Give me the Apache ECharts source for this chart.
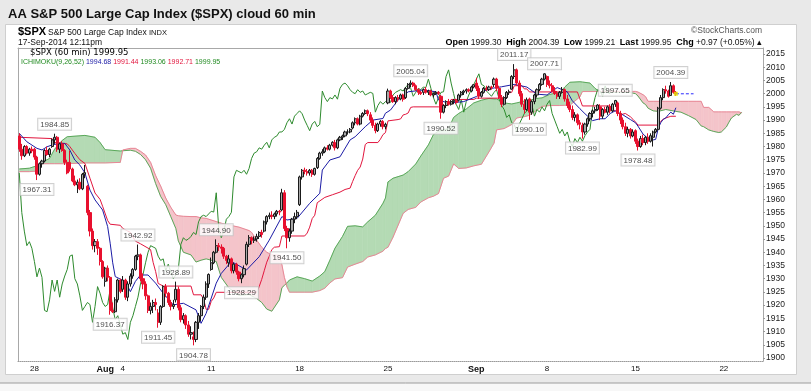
<!DOCTYPE html>
<html><head><meta charset="utf-8">
<script src="https://cdn.jsdelivr.net/npm/echarts@6/dist/echarts.min.js"></script>
<style>html,body{margin:0;padding:0;background:#f7f7f7;}#c{width:811px;height:391px;}</style>
</head><body><div id="c"></div>
<script>
// ---------- categories (trading sessions of 60-min bars) ----------
const sessions = [
 ['Jul 25',6],['Jul 28',7],['Jul 29',7],['Jul 30',7],['Jul 31',7],['Aug 1',7],
 ['Aug 4',7],['Aug 5',7],['Aug 6',7],['Aug 7',7],['Aug 8',7],
 ['Aug 11',7],['Aug 12',7],['Aug 13',7],['Aug 14',7],['Aug 15',7],
 ['Aug 18',7],['Aug 19',7],['Aug 20',7],['Aug 21',7],['Aug 22',7],
 ['Aug 25',7],['Aug 26',7],['Aug 27',7],['Aug 28',7],['Aug 29',7],
 ['Sep 2',7],['Sep 3',7],['Sep 4',7],['Sep 5',7],
 ['Sep 8',7],['Sep 9',7],['Sep 10',7],['Sep 11',7],['Sep 12',7],
 ['Sep 15',7],['Sep 16',7],['Sep 17',3]];
const projected = [['Sep 17',4],['Sep 18',7],['Sep 19',7],['Sep 22',7],['Sep 23',7],['Sep 24',2]];
const xTickLabels = [['Jul 28','28'],['Aug 1','Aug'],['Aug 4','4'],['Aug 11','11'],['Aug 18','18'],
 ['Aug 25','25'],['Sep 2','Sep'],['Sep 8','8'],['Sep 15','15'],['Sep 22','22']];
const monthNames = ['Aug','Sep'];
const yTicks = [1900,1905,1910,1915,1920,1925,1930,1935,1940,1945,1950,1955,1960,1965,1970,1975,1980,1985,1990,1995,2000,2005,2010,2015];

// ---------- OHLC (one row per session) ----------
const O = [
1984,1979,1976.5,1980,1977.5,1979,
1979,1976,1969.5,1973.5,1974.5,1978.5,1977,
1980,1982.5,1983.5,1979,1981,1978.5,1974,
1974,1971.5,1967,1965.5,1966.5,1964,1969.5,
1965,1955,1948,1942.5,1944,1941.5,1936.5,
1929,1934,1930.5,1918,1917.5,1922,1929.5,
1926,1929.5,1923,1928,1931,1933.5,1938.5,
1939,1930,1928,1923.5,1918,1919.5,1921,
1917,1913.5,1919.5,1927,1924.5,1921,1919.5,
1922,1926,1919,1914.5,1916,1912.5,1909,
1908,1907,1913.5,1916,1919.5,1923,1928,
1933.5,1936,1940,1942.5,1942,1941.5,1938.5,
1936,1937.5,1933,1935.5,1932.5,1930,1931.5,
1935.5,1943,1945.5,1944.5,1945,1946,1947.5,
1948,1951.5,1953.5,1954,1953.5,1954.5,1955.5,
1956,1962.5,1949,1945.5,1948,1952.5,1953.5,
1958,1968.5,1971,1970.5,1970,1971,1969.5,
1972,1975.5,1977.5,1978,1979.5,1979,1980.5,
1981.5,1979.5,1982.5,1983.5,1984,1985.5,1985.5,
1987,1989,1990.5,1988.5,1991.5,1992.5,1993.5,
1992,1990,1988,1986,1988.5,1989.5,1987.5,
1996.5,2001,1998.5,1997,1998.5,1998,1999.5,
1998.5,2002,2003.5,2004,2003,2001.5,2000.5,
2000.5,2001.5,2000.5,2001,1999.5,2000,2000.5,
1999,1993,1995.5,1997,1996,1997,1997.5,
1997.5,1999.5,2000.5,2001,2001.5,2001,2002.5,
2004,2002,1999,2000.5,2002,2001.5,2002.5,
2003.5,2005.5,2002,1998.5,1996,1998.5,2000.5,
2001.7,2006.5,2009,2004,2000,1996,1994,
1998,1993,1997,1999.5,2001.5,2003.5,2005.5,
2006.5,2003.5,2003,2001,2000,1999,2000.5,
2001.5,1998,1995.5,1994,1991,1992,1989,
1988,1985.5,1988.5,1990.5,1992.5,1993.5,1994,
1995,1991.5,1994,1993,1995,1993.5,1996,
1996.5,1992.5,1990,1987.5,1985,1986.5,1984,
1986,1982,1980,1983,1981.5,1983.5,1982,
1983.5,1985.5,1986.5,1994.5,1998.5,2001.5,2001,
1999.3,2003,2000.5];
const H = [
1985,1981,1980.5,1980.5,1979.5,1980,
1979.5,1976.5,1974,1975,1979,1980,1979.5,
1983,1984.85,1984,1981.5,1982,1979,1975,
1978.5,1972,1969,1967.5,1968,1970,1973,
1965.5,1956,1949,1945,1945,1942,1937,
1934.5,1935,1931,1921,1923,1930,1930,
1931,1930,1929,1932,1934,1939,1942.92,
1939.5,1932,1929,1924,1921,1922,1922.5,
1918.5,1920,1927.5,1928,1925,1922,1922,
1928.89,1927,1920,1917,1916.5,1914,1912,
1910,1914,1917,1920,1924,1929,1932,
1938,1940.5,1944.9,1943.5,1943,1942,1939,
1939,1938,1936,1936,1933,1932,1935,
1944,1946.5,1946,1946,1947,1948,1948.5,
1952,1954,1955,1955.5,1955,1956,1956,
1964,1963.5,1950,1949,1953,1955,1956,
1969,1971.5,1972,1971.5,1971.5,1971.5,1972,
1976,1978,1979,1980,1980.5,1981,1982,
1982.5,1983,1984,1984.5,1986,1986.5,1987,
1989.5,1991,1991,1992,1993,1994,1994,
1993,1991,1989,1989,1990,1990,1989,
2001.9,2001.5,1999.5,1999,1999.5,2000,2000,
2002.5,2004,2005.04,2004.5,2003.5,2002,2001,
2002,2002.5,2001.5,2001.5,2000.5,2001,2001,
1999.5,1996,1997.5,1998,1997.5,1998,1998,
2000,2001,2001.5,2002,2002,2003,2003.5,
2006,2003,2001,2002.5,2003,2003,2003,
2006.1,2006,2003,1999.5,1999,2001,2001.5,
2007,2011.17,2009.5,2005,2001,1998,1998.5,
1998.5,1997.5,2000,2002,2004,2006,2007.71,
2006.9,2005,2004,2002.5,2001,2001,2002.5,
2002,1999.5,1997,1995.5,1993,1992.5,1990,
1989,1989,1991,1993,1994,1995,1996,
1996,1994.5,1995,1995.5,1996,1996.5,1997.65,
1997,1993.5,1991,1989,1987.5,1987,1986.5,
1986.5,1983,1984,1984.5,1984,1985,1985,
1986,1987,1995,1999.5,2002,2003,2001.5,
2004.39,2003.5,2001];
const L = [
1978,1975,1976,1977,1976.5,1977.5,
1975,1967.31,1969,1972,1974,1976.5,1976,
1979.5,1981,1978,1977.5,1978,1973,1969.5,
1970.5,1966.5,1965,1962.4,1963.5,1963.5,1968,
1954,1946,1941,1940,1939,1935,1930,
1927,1929,1916.37,1917,1917,1921,1924.5,
1925,1922,1921.5,1927,1930,1933,1937,
1929,1926,1922,1917,1916.5,1917,1918,
1911.45,1912.5,1919,1923,1920,1918,1918.5,
1921,1918,1913.5,1913,1911,1908,1907,
1904.78,1906,1911,1914,1918.5,1922,1926.5,
1933,1935.5,1939.5,1940.5,1939.5,1937.5,1935.5,
1934.5,1932,1932,1931.5,1929,1928.29,1930.5,
1935,1942,1943,1943.5,1944,1945,1945.5,
1947.5,1950.5,1952.5,1952.5,1952.5,1953.5,1954,
1955.5,1948,1941.5,1944,1947,1951,1952.5,
1957.5,1967.5,1969.5,1969,1969,1968.5,1969,
1971.5,1975,1976.5,1977.5,1978.5,1978.5,1980,
1978.5,1979,1982,1982.5,1983.5,1984.5,1985,
1986.5,1988,1988,1988,1991,1992,1991.5,
1989,1987,1985,1985.5,1987.5,1986.5,1986.5,
1996,1998,1996.5,1996,1997,1997.5,1997,
1998,2001.5,2002.5,2002.5,2001,1999.5,1999.5,
1999.5,2000,1999.5,1999,1998.5,1999.5,1999.5,
1990.52,1992.5,1994.5,1995.5,1995.5,1996,1996,
1997,1998.5,1999.5,2000,2000.5,2000.5,2002,
2001,1998,1998.5,2000,2001,2001,2001.5,
2002.5,2001,1998,1994.9,1995.5,1998,1999.5,
2001.5,2005.5,2003,1999,1995,1992.4,1993.5,
1990.1,1992,1996,1998.5,2001,2003,2005,
2002.5,2002,2000.5,1999.5,1998,1998,2000,
1997,1994.5,1993,1990,1989.5,1988,1986.5,
1982.99,1984.5,1987.5,1989.5,1991,1992.5,1993.5,
1990,1990.5,1992.5,1992,1992.5,1993,1995,
1991.5,1988.5,1986.5,1984,1983.5,1983,1983.5,
1981,1978.48,1979.5,1980.5,1980.5,1981,1981.5,
1980,1985,1986,1994,1997.5,2000,1998.5,
1999.3,2000,1999.21];
const C = [
1979,1976.5,1980,1977.5,1979,1978.3,
1976,1969.5,1973.5,1974.5,1978.5,1977,1979,
1982.5,1983.5,1979,1981,1978.5,1974,1970,
1971.5,1967,1965.5,1966.5,1964,1969.5,1970.1,
1955,1948,1942.5,1944,1941.5,1936.5,1930.7,
1934,1930.5,1918,1917.5,1922,1929.5,1925.2,
1929.5,1923,1928,1931,1933.5,1938.5,1939,
1930,1928,1923.5,1918,1919.5,1921,1920.2,
1913.5,1919.5,1927,1924.5,1921,1919.5,1920.2,
1926,1919,1914.5,1916,1912.5,1909,1909.6,
1907,1913.5,1916,1919.5,1923,1928,1931.6,
1936,1940,1942.5,1942,1941.5,1938.5,1936.9,
1937.5,1933,1935.5,1932.5,1930,1931.5,1933.8,
1943,1945.5,1944.5,1945,1946,1947.5,1946.7,
1951.5,1953.5,1954,1953.5,1954.5,1955.5,1955.2,
1962.5,1949,1945.5,1948,1952.5,1953.5,1955.1,
1968.5,1971,1970.5,1970,1971,1969.5,1971.7,
1975.5,1977.5,1978,1979.5,1979,1980.5,1981.6,
1979.5,1982.5,1983.5,1984,1985.5,1985.5,1986.5,
1989,1990.5,1988.5,1991.5,1992.5,1993.5,1992.4,
1990,1988,1986,1988.5,1989.5,1987.5,1988.4,
2001,1998.5,1997,1998.5,1998,1999.5,1997.9,
2002,2003.5,2004,2003,2001.5,2000.5,2000,
2001.5,2000.5,2001,1999.5,2000,2000.5,2000.1,
1993,1995.5,1997,1996,1997,1997.5,1996.7,
1999.5,2000.5,2001,2001.5,2001,2002.5,2003.4,
2002,1999,2000.5,2002,2001.5,2002.5,2002.3,
2005.5,2002,1998.5,1996,1998.5,2000.5,2000.7,
2006.5,2009,2004,2000,1996,1994,1997.7,
1993,1997,1999.5,2001.5,2003.5,2005.5,2007.5,
2003.5,2003,2001,2000,1999,2000.5,2001.5,
1998,1995.5,1994,1991,1992,1989,1988.4,
1985.5,1988.5,1990.5,1992.5,1993.5,1994,1995.7,
1991.5,1994,1993,1995,1993.5,1996,1997.4,
1992.5,1990,1987.5,1985,1986.5,1984,1985.5,
1982,1980,1983,1981.5,1983.5,1982,1984.1,
1985.5,1986.5,1994.5,1998.5,2001.5,2001,1999,
2003,2000.5,1999.95];

// ---------- Ichimoku lines: [bar index, value] ----------
const tenkan = [[0,1985],[3,1981.8],[7,1979.3],[9,1978.7],[11,1979.9],[13,1980.6],[16,1981.2],[18,1981.2],[20,1978.7],[22,1974.9],[24,1973],[26,1970],[28,1963.5],[30,1959.8],[33,1956],[35,1949.7],[36,1943.4],[37,1936],[38,1930.8],[42,1928.9],[44,1925.1],[46,1929],[48,1931.4],[51,1931.4],[54,1928.3],[57,1924.5],[61,1920.1],[65,1920.7],[70,1918.2],[72,1913.1],[74,1916.9],[78,1928.3],[80,1932],[84,1936.5],[90,1933.3],[95,1938.3],[99,1944.6],[104,1953.5],[106,1952.2],[110,1952.8],[115,1958.5],[119,1962.3],[120,1971.1],[123,1974.9],[127,1976.1],[131,1982.5],[133,1983.7],[137,1987.5],[140,1990],[144,1990.6],[145,1992.6],[147,1993.8],[150,1997.6],[154,2000.7],[160,2001.4],[165,2000.7],[166,1997.6],[170,1996.4],[176,1997],[181,1998.9],[183,2000.7],[187,2002],[191,2002.6],[196,2003.5],[201,2002.5],[205,1999.8],[209,1999.5],[213,2002.3],[217,2000.7],[219,1997.3],[222,1994.3],[224,1992.4],[227,1989.8],[230,1990.5],[232,1990.5],[234,1992.5],[236,1993.5],[239,1992],[242,1990.2],[244,1989],[245,1987.7],[247,1984.7],[249,1983],[251,1982.5],[252,1982.7],[253,1986.8],[254,1989],[255,1990.3],[256,1990.8],[257,1992],[258,1993],[259,1992.2],[260,1994.68]];
const kijun = [[0,1983.5],[13,1983],[14,1981.5],[19,1981],[20,1980],[22,1977.4],[24,1975],[26,1973.6],[28,1968],[30,1962.4],[32,1960],[33,1957.4],[35,1952],[36,1950.6],[40,1950.2],[41,1949],[44,1947.5],[46,1944.2],[48,1943.2],[52,1941],[53,1936.2],[54,1932.7],[55,1928.2],[57,1927.2],[68,1927.2],[69,1923.9],[72,1923.9],[73,1922.2],[74,1918.4],[75,1918.4],[76,1921.4],[77,1922.7],[78,1924.85],[94,1924.85],[95,1927],[96,1929.75],[97,1933],[98,1936.25],[99,1938.5],[100,1941],[101,1941.9],[103,1942.1],[104,1946.15],[113,1946.15],[114,1947.25],[115,1949.5],[116,1952.75],[117,1954],[118,1958.75],[121,1960.75],[124,1961.75],[127,1962.75],[129,1963.75],[131,1964.25],[132,1966.75],[133,1969],[134,1971],[135,1972.25],[136,1975.25],[137,1980.75],[138,1981.5],[142,1981.5],[143,1982.75],[144,1984.5],[145,1985.25],[146,1989.7],[150,1990.2],[151,1990.45],[152,1991.95],[153,1992.2],[154,1992.7],[155,1994.8],[156,1995],[166,1995],[167,1995.3],[170,1995.8],[171,1997.8],[180,1997.8],[181,1998.3],[192,1998.3],[193,1999.3],[194,2000.3],[195,2000.5],[196,2003],[199,2003],[200,2001.8],[201,2001.8],[202,2000.65],[221,2000.65],[222,1998],[223,1995.35],[234,1995.35],[235,1994],[236,1993.5],[237,1992.75],[238,1992],[240,1992.5],[242,1991.25],[243,1990.3],[244,1989.3],[245,1988.1],[253,1988.1],[254,1989.5],[255,1990.3],[256,1990.8],[258,1991.44],[260,1991.44]];
// Senkou spans (already displaced 26 bars forward), sampled at the same bar indices
const cloudIdx = [0,4,8,9,12,14,17,19,26,30,32,34,40,41,44,46,48,50,52,54,56,58,60,62,63,65,68,70,72,74,78,80,83,87,91,92,94,96,98,100,103,104,105,106,107,110,113,116,119,121,123,125,128,130,133,136,138,141,144,145,146,148,150,152,154,157,159,162,164,166,168,170,172,174,177,180,183,186,188,189,192,195,197,200,202,205,207,210,214,216,218,222,223,226,228,230,234,238,242,244,245,247,248,249,251,253,256,260,262,265,268,270,271,273,274,275,277,278,280,281,282,283,284,285,286];
const senkouA = [1971.5,1971.8,1973.0,1974.0,1975.5,1979.0,1982.3,1983.7,1984.2,1983.5,1981.5,1978.8,1978.3,1978.4,1978.6,1978.2,1977.0,1975.0,1971.8,1966.0,1961.1,1958.0,1953.5,1949.0,1944.3,1940.0,1939.0,1936.3,1937.0,1937.5,1936.5,1930.5,1926.5,1923.7,1924.0,1923.5,1922.5,1921.0,1918.5,1917.7,1922.0,1926.6,1927.5,1928.4,1929.5,1930.7,1930.0,1929.1,1931.0,1932.7,1937.0,1941.5,1946.0,1949.8,1950.0,1949.6,1951.5,1954.0,1958.5,1960.5,1966.6,1968.0,1968.6,1969.2,1970.5,1973.4,1976.4,1980.6,1984.5,1985.8,1986.3,1986.8,1991.0,1992.5,1994.2,1996.5,1997.5,1998.2,1998.0,1998.0,1996.5,1996.1,1996.5,1997.2,1997.5,1998.2,1998.4,1999.7,2000.5,2002.5,2004.3,2004.5,2004.4,2004.0,2002.0,2000.6,2000.5,2000.6,2000.4,2000.0,1999.1,1996.5,1995.9,1994.5,1993.5,1993.3,1994.0,1993.3,1993.0,1991.7,1990.2,1987.8,1987.5,1986.3,1986.0,1985.7,1985.3,1985.5,1987.4,1989.2,1990.8,1991.5,1992.2,1991.8,1993.06];
const senkouB = [1970.5,1970.5,1970.8,1973.5,1973.5,1973.5,1973.5,1973.5,1973.8,1973.8,1973.8,1973.8,1974.0,1978.7,1979.3,1979.3,1978.2,1976.8,1974.0,1969.0,1965.0,1960.5,1957.0,1954.1,1953.8,1953.6,1953.5,1953.5,1953.0,1952.8,1951.6,1951.0,1950.3,1949.5,1948.2,1947.5,1944.6,1941.9,1940.0,1939.0,1938.9,1935.2,1930.4,1926.9,1924.9,1924.9,1924.9,1924.9,1925.5,1926.4,1928.4,1929.9,1930.4,1934.4,1935.5,1936.5,1938.2,1939.0,1940.4,1941.4,1941.9,1945.7,1950.2,1954.7,1956.2,1957.0,1959.0,1960.6,1961.2,1962.2,1968.0,1968.8,1973.4,1971.7,1971.9,1972.7,1973.3,1978.0,1981.3,1986.3,1986.8,1988.3,1990.8,1991.3,1991.8,1993.8,1995.2,1995.5,1995.5,1995.6,1995.6,1998.8,2000.8,2000.8,2000.8,2000.85,2000.85,2000.85,2000.85,2000.85,2000.6,1999.6,1998.85,1997.1,1997.1,1997.1,1997.1,1997.1,1997.1,1997.1,1997.1,1997.1,1994.8,1994.8,1994.0,1993.1,1993.1,1993.1,1993.1,1993.1,1993.1,1993.1,1993.1,1993.1,1992.71];
const CHIKOU_SHIFT = 26;
// labelled swing highs / lows (bar indices)
const highLabelBars = [14,47,62,78,155,196,208,236,258];
const lowLabelBars = [7,36,55,69,88,106,167,202,223,245];
// header quote
const qOpen = 1999.30, qHigh = 2004.39, qLow = 1999.21, qLast = 1999.95, qChg = 0.97, qPct = 0.05;

// ---------- build ----------
const cats = []; const firstBar = {};
[...sessions, ...projected].forEach(([d, n]) => {
  if (firstBar[d] === undefined) firstBar[d] = cats.length;
  for (let k = 0; k < n; k++) cats.push(d + '|' + cats.length);
});
const tickMap = {}; xTickLabels.forEach(([d, t]) => { tickMap[firstBar[d]] = t; });
const candles = O.map((o, i) => [o, C[i], L[i], H[i]]);
const chikou = C.slice(CHIKOU_SHIFT).map((v, k) => [k, v]);
const cloudSeg = [];
for (let k = 0; k < cloudIdx.length - 1; k++) cloudSeg.push([cloudIdx[k], senkouA[k], senkouB[k], cloudIdx[k+1], senkouA[k+1], senkouB[k+1]]);
const lastI = C.length - 1, last = C[lastI];
const yMin = 1898.86, yMax = 2017.27;
const F = 'Liberation Sans, Arial, sans-serif';

function renderCloud(params, api) {
  const i0 = api.value(0), a0 = api.value(1), b0 = api.value(2);
  const i1 = api.value(3), a1 = api.value(4), b1 = api.value(5);
  const P = (x, y) => api.coord([x, y]);
  const G = '#b4dab4', R = '#f4c4ca';
  const d0 = a0 - b0, d1 = a1 - b1;
  const polys = [];
  if (d0 * d1 >= 0) {
    polys.push([[P(i0,a0),P(i1,a1),P(i1,b1),P(i0,b0)], (d0 + d1) >= 0 ? G : R]);
  } else {
    const t = d0 / (d0 - d1), ix = i0 + t * (i1 - i0), iv = a0 + t * (a1 - a0);
    polys.push([[P(i0,a0),P(ix,iv),P(i0,b0)], d0 > 0 ? G : R]);
    polys.push([[P(ix,iv),P(i1,a1),P(i1,b1)], d1 > 0 ? G : R]);
  }
  return {type: 'group', children: polys.map(([pts, c]) => ({type: 'polygon', shape: {points: pts}, style: {fill: c, stroke: c, lineWidth: 0.6}}))};
}

const annoLabel = (pos) => ({show: true, position: pos, distance: 4, fontSize: 8, fontFamily: F, color: '#222',
  backgroundColor: '#fff', borderColor: '#c4c4c4', borderWidth: 1, padding: [2, 2, 1, 2],
  formatter: p => p.value[1].toFixed(2)});

const chart = echarts.init(document.getElementById('c'));
chart.setOption({
  animation: false,
  backgroundColor: '#f7f7f7',
  grid: {left: 18, right: 48, top: 48, bottom: 30},
  xAxis: [
    {type: 'category', data: cats, boundaryGap: true,
     axisLine: {show: true, lineStyle: {color: '#9a9a9a', type: 'dotted'}}, axisTick: {show: false},
     axisLabel: {interval: (idx) => tickMap[idx] !== undefined, fontSize: 8, fontFamily: F, color: '#111', margin: 4,
       formatter: (v, idx) => { const t = tickMap[idx]; return monthNames.includes(t) ? '{m|' + t + '}' : t; },
       rich: {m: {fontWeight: 'bold', fontSize: 9, fontFamily: F, color: '#111'}}},
     splitLine: {show: false}},
    {type: 'category', data: cats, position: 'top', boundaryGap: true,
     axisLine: {show: true, lineStyle: {color: '#a8a8a8'}}, axisTick: {show: false}, axisLabel: {show: false}}
  ],
  yAxis: [
    {type: 'value', position: 'right', min: yMin, max: yMax, scale: true,
     axisLine: {show: true, lineStyle: {color: '#a8a8a8'}},
     axisTick: {show: true, length: 2, customValues: yTicks, lineStyle: {color: '#999'}},
     axisLabel: {customValues: yTicks, fontSize: 8.5, fontFamily: F, color: '#222', margin: 3, formatter: v => String(v)},
     splitLine: {show: false}},
    {type: 'value', position: 'left', min: yMin, max: yMax, scale: true,
     axisLine: {show: true, lineStyle: {color: '#a8a8a8'}}, axisTick: {show: false}, axisLabel: {show: false}, splitLine: {show: false}}
  ],
  series: [
    {type: 'custom', name: 'cloud', renderItem: renderCloud, data: cloudSeg, encode: {x: [0, 3], y: [1, 2, 4, 5]}, z: 1, silent: true},
    {type: 'line', name: 'Senkou A', data: cloudIdx.map((x, k) => [x, senkouA[k]]), showSymbol: false, lineStyle: {width: 1, color: '#5aa85a'}, z: 2},
    {type: 'line', name: 'Senkou B', data: cloudIdx.map((x, k) => [x, senkouB[k]]), showSymbol: false, lineStyle: {width: 1, color: '#e88796'}, z: 2},
    {type: 'line', name: 'Chikou', data: chikou, showSymbol: false, lineStyle: {width: 1, color: '#2e8b2e'}, z: 3},
    {type: 'line', name: 'Kijun', data: kijun, showSymbol: false, lineStyle: {width: 1, color: '#e2163e'}, z: 3},
    {type: 'line', name: 'Tenkan', data: tenkan, showSymbol: false, lineStyle: {width: 1, color: '#1c1ca6'}, z: 3},
    {type: 'candlestick', name: '$SPX', data: candles, barWidth: 2.6, z: 4,
     itemStyle: {color: '#a8a8a8', color0: '#e8102e', borderColor: '#1a1a1a', borderColor0: '#e8102e', borderWidth: 1}},
    {type: 'line', name: 'last', data: [[lastI, last], [lastI + 7, last]], showSymbol: false, lineStyle: {width: 1, color: '#2a2aff', type: [3, 2]}, z: 5},
    {type: 'scatter', name: 'lastDot', data: [[lastI, last]], symbol: 'rect', symbolSize: 4, itemStyle: {color: '#e6e600'}, z: 6},
    {type: 'scatter', name: 'highs', data: highLabelBars.map(i => [i, H[i]]), symbolSize: 0, label: annoLabel('top'), z: 7},
    {type: 'scatter', name: 'lows', data: lowLabelBars.map(i => [i, L[i]]), symbolSize: 0, label: annoLabel('bottom'), z: 7}
  ],
  graphic: [
    {type: 'rect', z: -100, shape: {x: -10, y: -10, width: 831, height: 393, r: 6}, style: {fill: '#e9e9e9', stroke: '#9c9c9c', lineWidth: 1}},
    {type: 'rect', z: -99, shape: {x: 5.5, y: 24.5, width: 791, height: 350}, style: {fill: '#ffffff', stroke: '#cfcfcf', lineWidth: 1}},
    {type: 'text', z: 100, x: 8, y: 14, style: {text: 'AA S&P 500 Large Cap Index ($SPX) cloud 60 min', font: 'bold 13px ' + F, fill: '#111', textVerticalAlign: 'middle'}},
    {type: 'text', z: 100, x: 18, y: 32, style: {text: '$SPX', font: 'bold 11px ' + F, fill: '#000', textVerticalAlign: 'middle'}},
    {type: 'text', z: 100, x: 48, y: 32.5, style: {text: 'S&P 500 Large Cap Index', font: '8.5px ' + F, fill: '#111', textVerticalAlign: 'middle'}},
    {type: 'text', z: 100, x: 149, y: 32.5, style: {text: 'INDX', font: '7.5px ' + F, fill: '#111', textVerticalAlign: 'middle'}},
    {type: 'text', z: 100, x: 18, y: 43, style: {text: '17-Sep-2014 12:11pm', font: '8.5px ' + F, fill: '#111', textVerticalAlign: 'middle'}},
    {type: 'text', z: 100, x: 762, y: 31, style: {text: '\u00A9StockCharts.com', font: '8.5px ' + F, fill: '#555', textAlign: 'right', textVerticalAlign: 'middle'}},
    {type: 'text', z: 100, x: 762, y: 42.5, style: {
      text: '{b|Open} ' + qOpen.toFixed(2) + '  {b|High} ' + qHigh.toFixed(2) + '  {b|Low} ' + qLow.toFixed(2) + '  {b|Last} ' + qLast.toFixed(2) + '  {b|Chg} +' + qChg.toFixed(2) + ' (+' + qPct.toFixed(2) + '%) \u25B4',
      font: '8.5px ' + F, fill: '#111', textAlign: 'right', textVerticalAlign: 'middle',
      rich: {b: {fontWeight: 'bold', fontSize: 9, fontFamily: F, fill: '#000'}}}},
    {type: 'text', z: 100, x: 30, y: 53, style: {text: '$SPX (60 min) ' + last.toFixed(2), font: '8.5px DejaVu Sans, sans-serif', fill: '#000', textVerticalAlign: 'middle'}},
    {type: 'text', z: 100, x: 21, y: 62, style: {
      text: '{g|ICHIMOKU(9,26,52)} {u|' + tenkan[tenkan.length-1][1].toFixed(2) + '} {r|' + kijun[kijun.length-1][1].toFixed(2) + '} {g|' + senkouA[senkouA.length-1].toFixed(2) + '} {r|' + senkouB[senkouB.length-1].toFixed(2) + '} {g|' + last.toFixed(2) + '}',
      font: '7px ' + F, textVerticalAlign: 'middle',
      rich: {g: {fill: '#228b22', fontSize: 7, fontFamily: F}, u: {fill: '#1c1ca6', fontSize: 7, fontFamily: F}, r: {fill: '#e2163e', fontSize: 7, fontFamily: F}}}}
  ]
});
</script></body></html>
